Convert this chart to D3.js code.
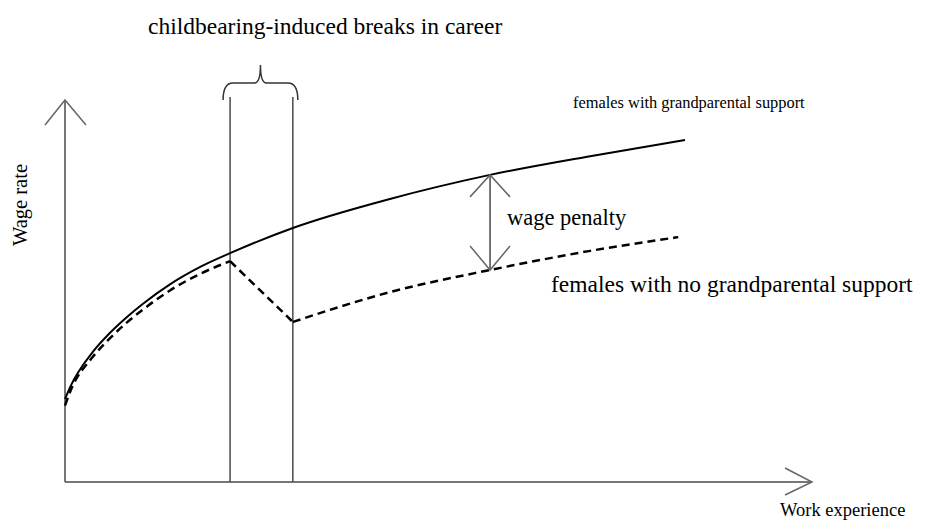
<!DOCTYPE html>
<html>
<head>
<meta charset="utf-8">
<script src="https://cdn.jsdelivr.net/npm/d3@7"></script>
<style>
  body { margin: 0; background: #fff; }
  svg { display: block; }
  text { font-family: "Liberation Serif", "Times New Roman", serif; fill: #000; }
</style>
</head>
<body>
<div id="chart"></div>
<script>
// data (arbitrary units 0-100 on both axes)
const experience = [0, 0.7, 3.7, 6, 8.3, 10.4, 14.1, 18.1, 22.1, 30.5, 43.5, 56.9, 70.3, 83];
const wageSupport = [21.7, 24.9, 34.0, 39.0, 43.2, 46.6, 51.8, 56.3, 59.9, 66.5, 74.1, 80.4, 85.3, 89.5];

const experienceNoSupport = [0, 0.7, 3.7, 6, 8.3, 10.4, 14.1, 18.1, 22.1, 30.5, 43.5, 56.9, 70.3, 82.1];
const wageNoSupport = [20.0, 23.7, 32.7, 37.6, 41.8, 45.1, 50.2, 54.5, 57.8, 41.9, 49.7, 55.5, 60.5, 64.1];

const careerBreak = [22.1, 30.5];
const penaltyAt = 56.9;

const labels = {
  title: 'childbearing-induced breaks in career',
  support: 'females with grandparental support',
  noSupport: 'females with no grandparental support',
  penalty: 'wage penalty',
  xTitle: 'Work experience',
  yTitle: 'Wage rate'
};

// dimensions
const WIDTH = 926;
const HEIGHT = 522;
const MARGIN_LEFT = 65;
const MARGIN_RIGHT = 114;
const MARGIN_TOP = 100;
const MARGIN_BOTTOM = 40;

const x = d3.scaleLinear().domain([0, 100]).range([MARGIN_LEFT, WIDTH - MARGIN_RIGHT]);
const y = d3.scaleLinear().domain([0, 100]).range([HEIGHT - MARGIN_BOTTOM, MARGIN_TOP]);

const $svg = d3.select('#chart').append('svg')
  .attr('width', WIDTH)
  .attr('height', HEIGHT);

const AXIS_COLOR = '#4a4a4a';

// axes with open arrow heads
const $axis = $svg.append('g').attr('class', 'g-axis');
const x0 = x(0), y0 = y(0), xEnd = x(100), yEnd = y(100);

$axis.append('line')
  .attr('x1', x0).attr('y1', y0).attr('x2', x0).attr('y2', yEnd)
  .attr('stroke', AXIS_COLOR).attr('stroke-width', 1.5);
$axis.append('line')
  .attr('x1', x0).attr('y1', y0).attr('x2', xEnd).attr('y2', y0)
  .attr('stroke', AXIS_COLOR).attr('stroke-width', 1.5);

function arrowHead(g, tipX, tipY, dx1, dy1, dx2, dy2, color) {
  g.append('path')
    .attr('d', `M${tipX + dx1},${tipY + dy1}L${tipX},${tipY}L${tipX + dx2},${tipY + dy2}`)
    .attr('fill', 'none')
    .attr('stroke', color)
    .attr('stroke-width', 1.5);
}
arrowHead($axis, x0, yEnd, -20, 25, 21, 25, '#666');
arrowHead($axis, xEnd, y0, -27, -14, -27, 13, '#666');

// career break lines + brace
const $vis = $svg.append('g').attr('class', 'g-vis');
careerBreak.forEach(b => {
  $vis.append('line')
    .attr('x1', x(b)).attr('y1', y0)
    .attr('x2', x(b)).attr('y2', y(100.8))
    .attr('stroke', AXIS_COLOR).attr('stroke-width', 1.5);
});

const bl = x(careerBreak[0]) - 7;
const br = x(careerBreak[1]) + 5;
const bm = (bl + br) / 2;
const bTop = 83, bEnd = 100, bCusp = 65;
$vis.append('path')
  .attr('d', `M${bl},${bEnd}Q${bl},${bTop} ${bl + 10},${bTop}L${bm - 6},${bTop}` +
    `Q${bm},${bTop} ${bm},${bCusp}Q${bm},${bTop} ${bm + 6},${bTop}` +
    `L${br - 10},${bTop}Q${br},${bTop} ${br},${bEnd}`)
  .attr('fill', 'none')
  .attr('stroke', '#333')
  .attr('stroke-width', 1.5);

// curves
const lineCurve = d3.line()
  .x(d => x(d[0]))
  .y(d => y(d[1]))
  .curve(d3.curveMonotoneX);
const lineStraight = d3.line()
  .x(d => x(d[0]))
  .y(d => y(d[1]));

const solidPts = d3.zip(experience, wageSupport);
const dashPts = d3.zip(experienceNoSupport, wageNoSupport);
const iBreak = experienceNoSupport.indexOf(careerBreak[0]);

$vis.append('path')
  .attr('d', lineCurve(solidPts))
  .attr('fill', 'none')
  .attr('stroke', '#000')
  .attr('stroke-width', 2);

const dashParts = [
  [lineCurve, dashPts.slice(0, iBreak + 1)],
  [lineStraight, dashPts.slice(iBreak, iBreak + 2)],
  [lineCurve, dashPts.slice(iBreak + 1)]
];
dashParts.forEach(([gen, pts]) => {
  $vis.append('path')
    .attr('d', gen(pts))
    .attr('fill', 'none')
    .attr('stroke', '#000')
    .attr('stroke-width', 2.5)
    .attr('stroke-dasharray', '8,5');
});

// wage penalty double arrow
const pTop = y(wageSupport[experience.indexOf(penaltyAt)]);
const pBot = y(wageNoSupport[experienceNoSupport.indexOf(penaltyAt)]);
$vis.append('line')
  .attr('x1', x(penaltyAt)).attr('y1', pTop)
  .attr('x2', x(penaltyAt)).attr('y2', pBot)
  .attr('stroke', AXIS_COLOR).attr('stroke-width', 1.5);
arrowHead($vis, x(penaltyAt), pTop, -20, 22, 20, 22, '#666');
arrowHead($vis, x(penaltyAt), pBot, -20, -24, 20, -24, '#666');

// texts (sizes differ in the original figure)
const $labels = $svg.append('g').attr('class', 'g-labels');
$labels.append('text').attr('x', 148).attr('y', 34)
  .style('font-size', '23.5px').text(labels.title);
$labels.append('text').attr('x', 573).attr('y', 108)
  .style('font-size', '16.4px').text(labels.support);
$labels.append('text').attr('x', 507).attr('y', 225)
  .style('font-size', '22.5px').text(labels.penalty);
$labels.append('text').attr('x', 551).attr('y', 292)
  .style('font-size', '23.5px').text(labels.noSupport);
$labels.append('text').attr('x', 780).attr('y', 516)
  .style('font-size', '18.5px').text(labels.xTitle);
$labels.append('text')
  .attr('transform', 'translate(27,205) rotate(-90)')
  .attr('text-anchor', 'middle')
  .style('font-size', '20.5px')
  .text(labels.yTitle);
</script>
</body>
</html>
